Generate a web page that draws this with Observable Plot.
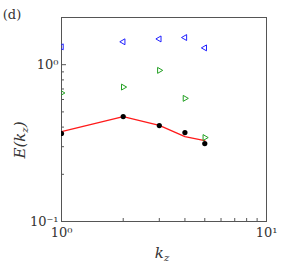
<!DOCTYPE html>
<html><head><meta charset="utf-8">
<script src="https://cdn.jsdelivr.net/npm/d3@7"></script>
<script src="https://cdn.jsdelivr.net/npm/@observablehq/plot@0.6"></script>
<style>body{margin:0;background:#fff}</style>
</head><body><div id="chart"></div>
<script>
const kz = [1, 2, 3, 4, 5];
const blackDots = [0.364, 0.467, 0.409, 0.369, 0.314];
const redLine = [0.374, 0.467, 0.41, 0.348, 0.328];
const blueTri = [1.30, 1.40, 1.46, 1.49, 1.28];
const greenTri = [0.66, 0.72, 0.92, 0.61, 0.343];
const xMajor = [1, 10];
const xMinor = [2, 3, 4, 5, 6, 7, 8, 9];
const yMajor = [0.1, 1];
const yMinor = [0.2, 0.3, 0.4, 0.5, 0.6, 0.7, 0.8, 0.9, 2];
const sup = {"1": "10⁰", "10": "10¹", "0.1": "10⁻¹"};

const rows = (vals) => kz.map((k, i) => ({k, v: vals[i]}));

const font = "DejaVu Serif";
const chart = Plot.plot({
  width: 282, height: 266,
  marginLeft: 61, marginRight: 16, marginTop: 17, marginBottom: 45,
  x: {type: "log", domain: [1, 10], label: null},
  y: {type: "log", domain: [0.1, 2], label: null},
  style: {fontFamily: font, background: "white", color: "#222"},
  marks: [
    Plot.axisX({ticks: xMinor, tickSize: -3, tickFormat: () => "", stroke: "#555", label: null}),
    Plot.axisX({ticks: xMajor, tickSize: -5, tickFormat: () => "", stroke: "#555", label: null}),
    Plot.axisX({ticks: xMajor, tickSize: 0, tickPadding: 6, tickFormat: d => sup[String(d)], fontSize: 13, fill: "#333", label: null}),
    Plot.axisY({ticks: yMinor, tickSize: -3, tickFormat: () => "", stroke: "#555", label: null}),
    Plot.axisY({ticks: yMajor, tickSize: -5, tickFormat: () => "", stroke: "#555", label: null}),
    Plot.axisY({ticks: yMajor, tickSize: 0, tickPadding: 3, tickFormat: d => sup[String(d)], fontSize: 13, fill: "#333", label: null}),
    Plot.frame({stroke: "#555", strokeWidth: 1}),
    Plot.line(rows(redLine), {x: "k", y: "v", stroke: "#ff1a1a", strokeWidth: 1.3, clip: true}),
    Plot.dot(rows(blueTri), {x: "k", y: "v", symbol: "triangle", rotate: -90, r: 2.2, stroke: "#2020ff", fill: "none", strokeWidth: 1, clip: true}),
    Plot.dot(rows(greenTri), {x: "k", y: "v", symbol: "triangle", rotate: 90, r: 2.2, stroke: "#22a022", fill: "none", strokeWidth: 1, clip: true}),
    Plot.dot(rows(blackDots), {x: "k", y: "v", r: 2.6, fill: "black", stroke: "none", clip: true})
  ]
});
document.getElementById("chart").appendChild(chart);

const svg = d3.select(chart);
svg.append("text").attr("x", 12).attr("y", 19).attr("font-family", font).attr("font-size", 13).attr("fill", "#333").text("(d)");
const xl = svg.append("text").attr("x", 162).attr("y", 258).attr("text-anchor", "middle").attr("font-family", font).attr("font-size", 15).attr("font-style", "italic").attr("fill", "#333");
xl.append("tspan").text("k");
xl.append("tspan").attr("font-size", 10).attr("dy", 3).text("z");
const yl = svg.append("text").attr("transform", "translate(25,140) rotate(-90)").attr("text-anchor", "middle").attr("font-family", font).attr("font-size", 15).attr("font-style", "italic").attr("fill", "#333");
yl.append("tspan").text("E(k");
yl.append("tspan").attr("font-size", 10).attr("dy", 3).text("z");
yl.append("tspan").attr("dy", -3).text(")");
</script>
</body></html>
